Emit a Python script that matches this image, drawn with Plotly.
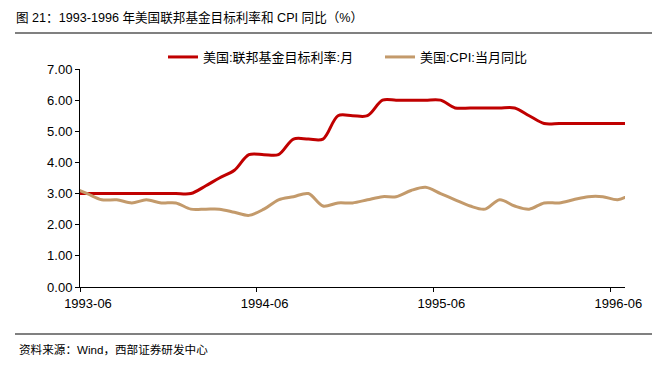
import pandas as pd
import plotly.graph_objects as go

# monthly observations, 1993-05 .. 1996-07
months = pd.period_range("1993-05", "1996-07", freq="M")

fed_target = [
    3.00,                                                  # 1993-05
    3.00, 3.00, 3.00, 3.00, 3.00, 3.00, 3.00,              # 1993-06..12
    3.00, 3.25, 3.50, 3.75, 4.25, 4.25, 4.25, 4.75, 4.75, 4.75, 5.50, 5.50,   # 1994
    5.50, 6.00, 6.00, 6.00, 6.00, 6.00, 5.75, 5.75, 5.75, 5.75, 5.75, 5.50,   # 1995
    5.25, 5.25, 5.25, 5.25, 5.25, 5.25, 5.25,              # 1996-01..07
]
cpi_yoy = [
    3.2,                                                   # 1993-05
    3.0, 2.8, 2.8, 2.7, 2.8, 2.7, 2.7,                     # 1993-06..12
    2.5, 2.5, 2.5, 2.4, 2.3, 2.5, 2.8, 2.9, 3.0, 2.6, 2.7, 2.7,   # 1994
    2.8, 2.9, 2.9, 3.1, 3.2, 3.0, 2.8, 2.6, 2.5, 2.8, 2.6, 2.5,   # 1995
    2.7, 2.7, 2.8, 2.9, 2.9, 2.8, 3.0,                     # 1996-01..07
]
tick_labels = ["1993-06", "1994-06", "1995-06", "1996-06"]
y_ticks = [0, 1, 2, 3, 4, 5, 6, 7]

series_names = ["美国:联邦基金目标利率:月", "美国:CPI:当月同比"]
title_text = "图 21：1993-1996 年美国联邦基金目标利率和 CPI 同比（%）"
source_text = "资料来源：Wind，西部证券研发中心"

# plot each monthly value at the middle of its month; axis spans 1993-06-01 .. 1996-07-01
x_mid = months.to_timestamp(how="start") + pd.Timedelta(days=15)
tick_pos = [pd.Period(t, freq="M").to_timestamp(how="start") for t in tick_labels]
x_range = [months[1].to_timestamp(how="start"), months[-1].to_timestamp(how="start")]

FONT = "Liberation Sans, Arial, Noto Sans CJK SC, sans-serif"

# The page body has an 8px margin, so the figure sits at (8, 8) in the window.
OFF = 8
W, H = 660 - OFF, 374 - 2 * OFF
# plot area in window coords: x 80..625, y 69..287
PL, PR, PT, PB = 80, 625, 69, 287
L, T = PL - OFF, PT - OFF
R = W - (PR - OFF)
B = H - (PB - OFF)
pw, ph = W - L - R, H - T - B

def px(xw):
    """window x -> paper x"""
    return (xw - OFF - L) / pw

def py(yw):
    """window y -> paper y"""
    return (H - B - (yw - OFF)) / ph

fig = go.Figure()
fig.add_trace(go.Scatter(
    x=x_mid, y=fed_target, name=series_names[0], mode="lines",
    line=dict(color="#C00000", width=3, shape="spline", smoothing=0.9),
    legend="legend",
))
fig.add_trace(go.Scatter(
    x=x_mid, y=cpi_yoy, name=series_names[1], mode="lines",
    line=dict(color="#C39A6B", width=3, shape="spline", smoothing=0.9),
    legend="legend2",
))

legend_common = dict(
    orientation="h", xanchor="left", yanchor="middle",
    font=dict(family=FONT, size=13, color="#000000"),
    bgcolor="rgba(0,0,0,0)", itemwidth=30, borderwidth=0,
)

fig.update_layout(
    width=W, height=H,
    margin=dict(l=L, r=R, t=T, b=B, autoexpand=False),
    paper_bgcolor="white", plot_bgcolor="white",
    font=dict(family=FONT, size=13, color="#000000"),
    title=dict(
        text=title_text, x=(16 - OFF) / W, xanchor="left",
        y=1 - (17.5 - OFF) / H, yanchor="middle",
        font=dict(family=FONT, size=12.6, color="#000000"),
    ),
    showlegend=True,
    legend=dict(legend_common, x=px(163), y=py(57)),
    legend2=dict(legend_common, x=px(380), y=py(57)),
    xaxis=dict(
        type="date", range=x_range,
        tickvals=tick_pos, ticktext=tick_labels,
        ticks="outside", ticklen=4, tickcolor="#000000", tickwidth=1,
        ticklabelshift=8,
        showline=True, linecolor="#000000", linewidth=1,
        showgrid=False, zeroline=False, automargin=False,
        tickfont=dict(family=FONT, size=13, color="#000000"),
    ),
    yaxis=dict(
        range=[0, 7], tickvals=y_ticks, tickformat=".2f",
        ticks="outside", ticklen=4, tickcolor="#000000", tickwidth=1,
        showline=True, linecolor="#000000", linewidth=1,
        showgrid=False, zeroline=False, automargin=False,
        tickfont=dict(family=FONT, size=13, color="#000000"),
    ),
    shapes=[
        dict(type="line", xref="paper", yref="paper",
             x0=px(15), x1=px(660), y0=py(33), y1=py(33),
             line=dict(color="#808080", width=2)),
        dict(type="line", xref="paper", yref="paper",
             x0=px(15), x1=px(660), y0=py(334), y1=py(334),
             line=dict(color="#808080", width=2)),
    ],
    annotations=[
        dict(text=source_text, xref="paper", yref="paper",
             x=px(17), y=py(349), xanchor="left", yanchor="middle",
             showarrow=False, font=dict(family=FONT, size=11.6, color="#000000")),
    ],
)

fig.write_html("out.html")
